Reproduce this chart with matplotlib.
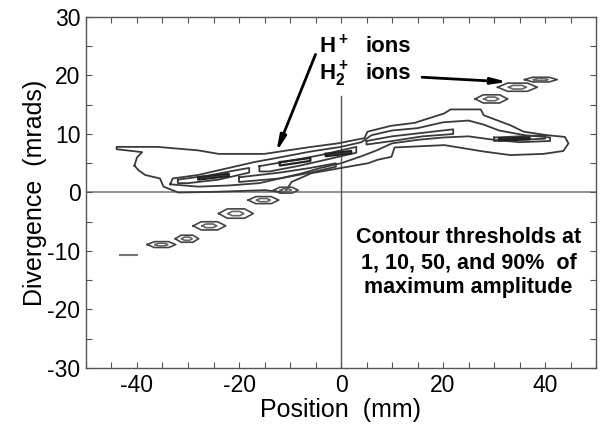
import matplotlib
matplotlib.use("Agg")
import matplotlib.pyplot as plt
from matplotlib.ticker import MultipleLocator, FixedLocator

plt.rcParams['font.family'] = ['Liberation Sans', 'DejaVu Sans']
plt.rcParams['mathtext.fontset'] = 'custom'
plt.rcParams['mathtext.rm'] = 'Liberation Sans'
plt.rcParams['mathtext.bf'] = 'Liberation Sans:bold'
plt.rcParams['axes.unicode_minus'] = False

# ---- data (mm / mrad) ----
# 1 % contour of the H+ beam
c1_x = [-40.5, -40.0, -39.0, -44.0, -44.0, -36.0, -28.0, -24.0, -15.0, -9.7, -5.8, -0.6, 4.6, 5.2, 9.8,
        14.4, 20.2, 21.5, 27.4, 28.0, 33.2, 35.8, 40.4, 43.9, 44.6, 43.6, 39.7, 33.2, 28.0,
        20.3, 10.5, 9.9, 7.2, 5.3, -0.6, -5.8, -9.7, -11.0, -14.9, -25.3, -31.9, -34.8,
        -35.5, -38.4, -39.7, -40.5]
c1_y = [4.6, 6.0, 6.9, 7.4, 7.8, 7.8, 7.2, 6.6, 6.6, 7.3, 7.8, 8.4, 9.3, 10.4, 11.4,
        11.9, 13.5, 14.2, 14.2, 13.2, 11.5, 10.4, 9.8, 9.5, 8.4, 7.1, 6.6, 6.4, 7.0,
        8.1, 7.7, 6.1, 5.6, 5.0, 4.1, 3.3, 1.8, 0.0, 0.4, 0.1, 0.0, 1.0,
        2.4, 3.0, 3.8, 4.6]
# 10 % contour
c10_x = [-33.5, -33.0, -28.0, -22.0, -17.0, -12.0, -6.0, 0.0, 4.0, 6.0, 10.0, 15.0, 20.0, 25.0,
         28.0, 31.0, 36.0, 41.0, 41.0, 35.0, 30.0, 25.0, 20.0, 15.0, 10.0, 7.0, 4.0, 0.0,
         -4.0, -8.0, -12.0, -16.0, -22.0, -28.0, -33.5]
c10_y = [1.4, 2.4, 3.0, 4.2, 5.2, 6.0, 7.0, 7.8, 8.6, 9.8, 10.6, 11.0, 12.0, 12.3,
         11.6, 10.6, 9.8, 9.4, 8.8, 8.6, 9.0, 9.6, 9.4, 9.0, 8.4, 7.2, 6.2, 5.0,
         4.2, 3.2, 2.4, 1.6, 1.2, 1.0, 1.4]
# 50 % contour pieces
c50_x = [[-32.0, -26.0, -20.0, -18.0, -18.0, -24.0, -30.0, -32.0, -32.0],
         [-16.0, -10.0, -4.0, 0.0, 3.0, 3.0, -2.0, -8.0, -14.0, -16.0, -16.0],
         [-20.0, -12.0, -6.0, -1.0, -1.0, -6.0, -12.0, -20.0, -20.0],
         [5.0, 10.0, 16.0, 22.0, 22.0, 16.0, 10.0, 5.0, 5.0],
         [30.0, 35.0, 40.0, 40.0, 35.0, 30.0, 30.0]]
c50_y = [[2.2, 2.9, 3.9, 4.2, 3.4, 2.2, 1.6, 1.6, 2.2],
         [4.5, 5.4, 6.4, 7.2, 7.8, 6.8, 5.8, 4.6, 3.6, 3.6, 4.5],
         [2.6, 3.4, 4.2, 5.0, 4.4, 3.4, 2.4, 1.8, 2.6],
         [8.8, 9.6, 10.2, 10.8, 10.0, 9.6, 8.8, 8.2, 8.8],
         [9.4, 9.6, 9.8, 9.2, 9.0, 8.8, 9.4]]
# 90 % contour pieces
c90_x = [[-28.0, -22.0, -22.0, -28.0, -28.0],
         [-12.0, -6.0, -6.0, -12.0, -12.0],
         [-3.0, 2.0, 2.0, -3.0, -3.0],
         [31.0, 37.0, 37.0, 31.0, 31.0]]
c90_y = [[2.6, 3.2, 2.8, 2.2, 2.6],
         [5.2, 5.9, 5.4, 4.6, 5.2],
         [6.6, 7.1, 6.7, 6.2, 6.6],
         [9.2, 9.4, 9.1, 8.9, 9.2]]
# H2+ beamlets: centre, half width, half height
h2_x = [-35.2, -30.2, -25.8, -20.6, -15.2, -10.8, 29.5, 34.6, 39.2]
h2_y = [-8.9, -7.9, -5.7, -3.6, -1.3, 0.4, 16.0, 18.0, 19.3]
h2_w = [2.8, 2.3, 3.2, 3.4, 3.0, 2.4, 3.2, 3.9, 3.2]
h2_h = [0.5, 0.6, 0.7, 0.8, 0.6, 0.5, 0.7, 0.7, 0.4]
h2_dash_x = [-43.3, -40.0]
h2_dash_y = [-10.7, -10.7]

x_ticks = [-40, -20, 0, 20, 40]
y_ticks = [-30, -20, -10, 0, 10, 20, 30]

# ---- figure ----
fig = plt.figure(figsize=(6.0, 4.25), dpi=100)
ax = fig.add_axes([86 / 600, 1 - 368 / 425, 510 / 600, 351 / 425])
ax.set_xlim(-50, 50)
ax.set_ylim(-30, 30)

line_kw = dict(color='#3a3a3a', lw=1.3)
ax.plot(c1_x, c1_y, **line_kw)
ax.plot(c10_x, c10_y, **line_kw)
for px, py in zip(c50_x, c50_y):
    ax.plot(px, py, **line_kw)
for px, py in zip(c90_x, c90_y):
    ax.plot(px, py, color='#222222', lw=1.6)

for xc, yc, w, h in zip(h2_x, h2_y, h2_w, h2_h):
    for s, col in ((1.0, '#444444'), (0.45, '#666666')):
        hx = [xc - w * s, xc - 0.5 * w * s, xc + 0.5 * w * s, xc + w * s,
              xc + 0.5 * w * s, xc - 0.5 * w * s, xc - w * s]
        hy = [yc, yc + h * s, yc + h * s, yc, yc - h * s, yc - h * s, yc]
        ax.plot(hx, hy, color=col, lw=1.2)
ax.plot(h2_dash_x, h2_dash_y, color='#777777', lw=1.5)

# reference lines
ax.axhline(0, color='#8a8a8a', lw=1.3, zorder=0)
ax.plot([0, 0], [-30, 16.5], color='#555555', lw=1.0, zorder=0)

# annotations
ax.text(-4.3, 24.9, r'$\mathbf{H^+}$', fontsize=16, va='center', ha='left')
ax.text(4.9, 24.9, 'ions', fontsize=16, fontweight='bold', va='center', ha='left')
ax.text(-4.3, 20.2, r'$\mathbf{H_2^+}$', fontsize=16, va='center', ha='left')
ax.text(4.9, 20.4, 'ions', fontsize=16, fontweight='bold', va='center', ha='left')
ax.annotate('', xy=(-12.7, 6.9), xytext=(-5.0, 23.6),
            arrowprops=dict(arrowstyle='-|>,head_length=0.9,head_width=0.18',
                            lw=2.0, color='black', shrinkA=0, shrinkB=0))
ax.annotate('', xy=(32.7, 18.9), xytext=(15.9, 19.7),
            arrowprops=dict(arrowstyle='-|>,head_length=0.9,head_width=0.18',
                            lw=2.0, color='black', shrinkA=0, shrinkB=0))
ax.text(25.0, -12.0, 'Contour thresholds at\n1, 10, 50, and 90%  of\nmaximum amplitude',
        fontsize=15.5, fontweight='bold', ha='center', va='center', linespacing=1.25)

# axes styling
for sp in ax.spines.values():
    sp.set_color('#555555')
    sp.set_linewidth(1.0)
ax.xaxis.set_major_locator(FixedLocator(x_ticks))
ax.yaxis.set_major_locator(FixedLocator(y_ticks))
ax.xaxis.set_minor_locator(MultipleLocator(5))
ax.yaxis.set_minor_locator(MultipleLocator(5))
ax.tick_params(which='both', direction='in', top=True, right=True, length=4,
               width=0.8, color='#555555')
ax.tick_params(which='major', labelsize=16.5, pad=4)
ax.set_xlabel('Position  (mm)', fontsize=18, labelpad=1)
ax.set_ylabel('Divergence  (mrads)', fontsize=18, labelpad=0)

fig.savefig('out.png', dpi=100)
